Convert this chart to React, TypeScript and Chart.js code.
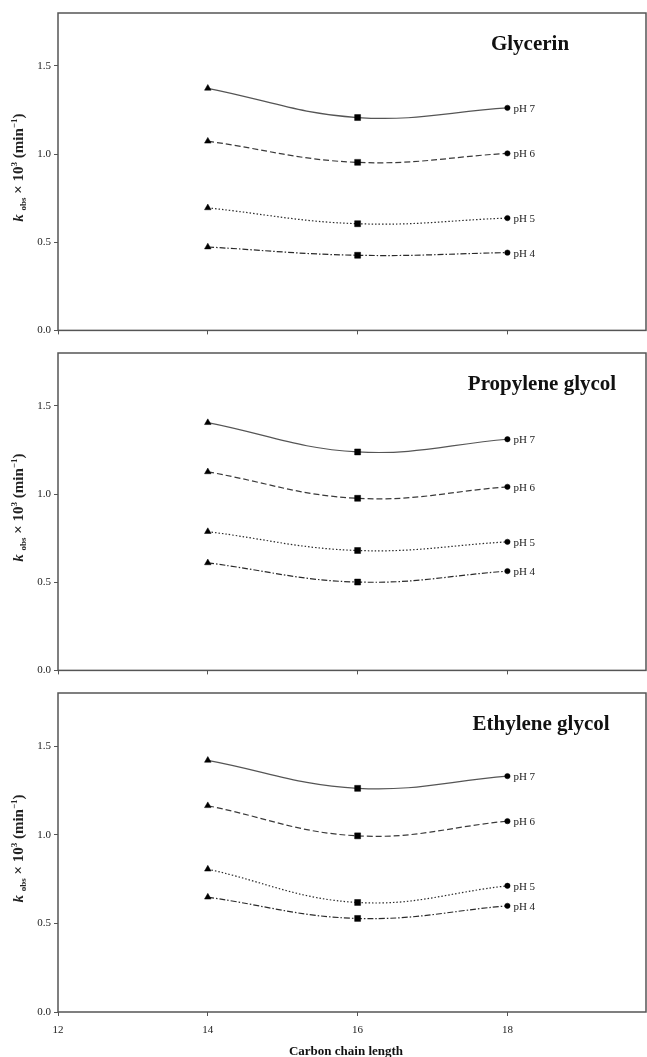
import React, { useEffect, useRef } from 'react';
import { Chart, registerables } from 'chart.js';
Chart.register(...registerables);

// ---- data ----
const carbonLengths = [14, 16, 18];
const phLabels = ['pH 7', 'pH 6', 'pH 5', 'pH 4'];
const xTickValues = [12, 14, 16, 18];
const yTickValues = [0, 0.5, 1.0, 1.5];
const panelTitles = ['Glycerin', 'Propylene glycol', 'Ethylene glycol'];

const glycerinPH7 = [1.373, 1.207, 1.262];
const glycerinPH6 = [1.073, 0.953, 1.004];
const glycerinPH5 = [0.695, 0.605, 0.637];
const glycerinPH4 = [0.473, 0.426, 0.441];

const propylenePH7 = [1.405, 1.239, 1.311];
const propylenePH6 = [1.126, 0.976, 1.041];
const propylenePH5 = [0.787, 0.680, 0.729];
const propylenePH4 = [0.610, 0.501, 0.563];

const ethylenePH7 = [1.420, 1.262, 1.331];
const ethylenePH6 = [1.164, 0.994, 1.077];
const ethylenePH5 = [0.806, 0.618, 0.712];
const ethylenePH4 = [0.648, 0.528, 0.599];

const panelSeries = [
  [glycerinPH7, glycerinPH6, glycerinPH5, glycerinPH4],
  [propylenePH7, propylenePH6, propylenePH5, propylenePH4],
  [ethylenePH7, ethylenePH6, ethylenePH5, ethylenePH4],
];

// ---- styles ----
const SERIF = "'Liberation Serif', 'Times New Roman', serif";
const dashes = [[], [6, 3], [1.5, 2], [6, 2, 1.5, 2]];
const lineColors = ['#555', '#3a3a3a', '#2a2a2a', '#2a2a2a'];
const titleCenters = [530, 542, 541];
const pointStyles = ['triangle', 'rect', 'circle'];
const pointRadii = [3.8, 4.2, 2.7];

function drawYTitle(ctx: CanvasRenderingContext2D, cx: number, cy: number) {
  const segs = [
    { t: 'k', f: `italic bold 15px ${SERIF}`, dy: 0 },
    { t: ' ', f: `bold 15px ${SERIF}`, dy: 0 },
    { t: 'obs', f: `bold 9px ${SERIF}`, dy: 3 },
    { t: ' \u00d7 10', f: `bold 15px ${SERIF}`, dy: 0 },
    { t: '3', f: `bold 9px ${SERIF}`, dy: -6 },
    { t: ' (min', f: `bold 15px ${SERIF}`, dy: 0 },
    { t: '\u22121', f: `bold 9px ${SERIF}`, dy: -6 },
    { t: ')', f: `bold 15px ${SERIF}`, dy: 0 },
  ];
  ctx.save();
  ctx.translate(cx, cy);
  ctx.rotate(-Math.PI / 2);
  ctx.fillStyle = '#222';
  ctx.textBaseline = 'alphabetic';
  ctx.textAlign = 'left';
  let total = 0;
  const widths = segs.map((s) => {
    ctx.font = s.f;
    const w = ctx.measureText(s.t).width;
    total += w;
    return w;
  });
  let x = -total / 2;
  segs.forEach((s, i) => {
    ctx.font = s.f;
    ctx.fillText(s.t, x, 5 + s.dy);
    x += widths[i];
  });
  ctx.restore();
}

function Panel({ index }: { index: number }) {
  const ref = useRef<HTMLCanvasElement | null>(null);
  const isBottom = index === 2;
  const height = isBottom ? 377 : 340;
  useEffect(() => {
    if (!ref.current) return;
    const series = panelSeries[index];
    const decor = {
      id: 'decor',
      beforeDatasetsDraw(chart: any) {
        const { ctx, chartArea } = chart;
        ctx.save();
        ctx.strokeStyle = '#555';
        ctx.lineWidth = 1.5;
        ctx.strokeRect(chartArea.left, chartArea.top, chartArea.right - chartArea.left, chartArea.bottom - chartArea.top);
        ctx.restore();
      },
      afterDraw(chart: any) {
        const { ctx, chartArea } = chart;
        ctx.save();
        // panel title
        ctx.font = `bold 21px ${SERIF}`;
        ctx.fillStyle = '#111';
        ctx.textAlign = 'center';
        ctx.textBaseline = 'alphabetic';
        ctx.fillText(panelTitles[index], titleCenters[index], 50);
        // pH labels
        ctx.font = `11px ${SERIF}`;
        ctx.fillStyle = '#222';
        ctx.textAlign = 'left';
        ctx.textBaseline = 'middle';
        chart.data.datasets.forEach((ds: any, i: number) => {
          const meta = chart.getDatasetMeta(i);
          const pt = meta.data[meta.data.length - 1];
          ctx.fillText(ds.label, pt.x + 6, pt.y + 1);
        });
        // y title
        drawYTitle(ctx, 18, (chartArea.top + chartArea.bottom) / 2 - 4);
        // x title
        if (isBottom) {
          ctx.font = `bold 13px ${SERIF}`;
          ctx.fillStyle = '#111';
          ctx.textAlign = 'center';
          ctx.textBaseline = 'middle';
          ctx.fillText('Carbon chain length', (chartArea.left + chartArea.right) / 2 - 6, 372);
        }
        ctx.restore();
      },
    };
    const chart = new Chart(ref.current, {
      type: 'line',
      data: {
        datasets: series.map((vals, i) => ({
          label: phLabels[i],
          data: carbonLengths.map((x, j) => ({ x, y: vals[j] })),
          borderColor: lineColors[i],
          borderWidth: 1.2,
          borderDash: dashes[i],
          tension: 0.4,
          pointStyle: pointStyles,
          pointRadius: pointRadii,
          pointBackgroundColor: '#000',
          pointBorderColor: '#000',
          pointBorderWidth: 0.5,
          fill: false,
        })),
      },
      options: {
        animation: false,
        responsive: false,
        events: [],
        layout: { autoPadding: false, padding: { top: 13, right: 1, left: 0, bottom: 0 } },
        plugins: { legend: { display: false }, tooltip: { enabled: false }, title: { display: false } },
        scales: {
          x: {
            type: 'linear',
            min: 12,
            max: 19.85,
            afterBuildTicks: (scale: any) => {
              scale.ticks = xTickValues.map((v) => ({ value: v }));
            },
            afterFit: (scale: any) => {
              scale.height = isBottom ? 45 : 8;
              scale.paddingLeft = 0;
              scale.paddingRight = 0;
            },
            ticks: {
              display: isBottom,
              font: { family: SERIF, size: 11 },
              color: '#222',
              padding: 8,
              maxRotation: 0,
              callback: (v: any) => String(v),
            },
            grid: { drawOnChartArea: false, drawTicks: true, tickLength: 4, color: '#555' },
            border: { display: false },
          },
          y: {
            type: 'linear',
            min: 0,
            max: 1.8,
            afterBuildTicks: (scale: any) => {
              scale.ticks = yTickValues.map((v) => ({ value: v }));
            },
            afterFit: (scale: any) => {
              scale.width = 58;
            },
            ticks: {
              font: { family: SERIF, size: 11 },
              color: '#222',
              padding: 3,
              callback: (v: any) => Number(v).toFixed(1),
            },
            grid: { drawOnChartArea: false, drawTicks: true, tickLength: 4, color: '#555' },
            border: { display: false },
          },
        },
      },
      plugins: [decor],
    } as any);
    return () => chart.destroy();
  }, [index]);
  return (
    <canvas
      ref={ref}
      width={647}
      height={height}
      style={{ position: 'absolute', left: 0, top: index * 340, width: 647, height }}
    />
  );
}

export default function App() {
  return (
    <div style={{ position: 'absolute', left: 0, top: 0, width: 647, height: 1057, background: '#fff' }}>
      <Panel index={0} />
      <Panel index={1} />
      <Panel index={2} />
    </div>
  );
}
